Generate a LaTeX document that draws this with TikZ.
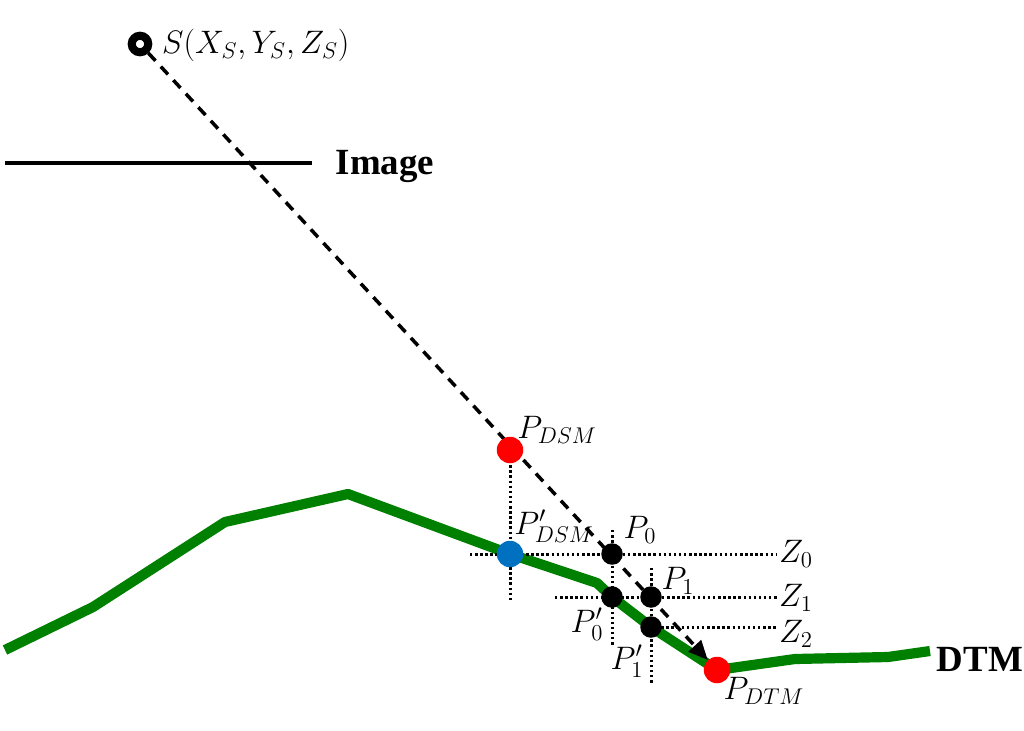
\RequirePackage{fix-cm}
\documentclass[tikz,border=0pt]{standalone}
\usepackage{fontspec}
\setmainfont{Liberation Serif}
\usepackage{xcolor}
\usetikzlibrary{arrows.meta,positioning,backgrounds}

\definecolor{dtmgreen}{RGB}{0,128,0}
\definecolor{dsmblue}{RGB}{0,112,192}

\begin{document}
\begin{tikzpicture}[x=0.02cm,y=-0.02cm,
  bigpt/.style={circle,inner sep=0pt,minimum size=0.53cm},
  smallpt/.style={circle,fill=black,inner sep=0pt,minimum size=0.43cm},
  lab/.style={font=\fontsize{18.5}{21}\selectfont,inner sep=1pt},
  tag/.style={font=\fontsize{21}{24}\selectfont\bfseries},
  terrain/.style={draw=dtmgreen,line width=5.8pt,line join=round},
  guide/.style={line width=1.7pt,dash pattern=on 1.4pt off 1.5pt},
  ray/.style={line width=2pt,dash pattern=on 6pt off 4.5pt,-{Triangle[length=11pt,width=9.5pt]}}
]
\useasboundingbox (0,0) rectangle (1024,730);

% sensor and image plane
\node[circle,draw,line width=4.6pt,fill=white,inner sep=0pt,minimum size=0.33cm] (src) at (140,44) {};
\node[lab,anchor=west] (srclab) at (160,45) {$S(X_S,Y_S,Z_S)$};
\coordinate (imgl) at (5,163);
\coordinate (imgr) at (312,163);
\node[tag] (imglab) at (385,166) {Image};

% points
\node[bigpt,fill=red] (pdsm) at (510,450) {};
\node[bigpt,fill=dsmblue] (pdsmp) at (510,554) {};
\node[smallpt] (p0) at (612,554) {};
\node[smallpt] (p0p) at (612,597) {};
\node[smallpt] (p1) at (651,597) {};
\node[smallpt] (p2) at (651,627) {};
\node[bigpt,fill=red] (pdtm) at (717,670) {};

\node[lab] (pdsmlab) at (557,430) {$P_{DSM}$};
\node[lab] (pdsmplab) at (554,526) {$P'_{DSM}$};
\node[lab] (p0lab) at (640,530) {$P_0$};
\node[lab] (p1lab) at (678,581) {$P_1$};
\node[lab] (p0plab) at (587,624) {$P'_0$};
\node[lab] (p1plab) at (627,661) {$P'_1$};
\node[lab] (pdtmlab) at (764,691) {$P_{DTM}$};
\node[lab,anchor=west] (zlab0) at (777,554) {$Z_0$};
\node[lab,anchor=west] (zlab1) at (777,598) {$Z_1$};
\node[lab,anchor=west] (zlab2) at (777,634) {$Z_2$};
\node[tag] (dtmlab) at (980,659) {DTM};

% terrain bends and guide ends
\coordinate (t1) at (5,650);
\coordinate (t2) at (93,607);
\coordinate (t3) at (225,522);
\coordinate (t4) at (348,494);
\coordinate (t5) at (597,583);
\coordinate (t6) at (795,659);
\coordinate (t7) at (888,657);
\coordinate (t8) at (930,651);
\coordinate (v1b) at (510,600);
\coordinate (v2t) at (612,530);
\coordinate (v2b) at (612,645);
\coordinate (v3t) at (651,568);
\coordinate (v3b) at (651,685);
\coordinate (z0l) at (470,554);
\coordinate (z1l) at (555,597);

\begin{scope}[on background layer]
\draw[line width=2.2pt] (imgl) -- (imgr);
\draw[terrain] (t1) -- (t2) -- (t3) -- (t4) -- (pdsmp.center) -- (t5) -- (p0p.center) -- (p2.center) -- (pdtm.center) -- (t6) -- (t7) -- (t8);
\draw[guide] (pdsm.center) -- (v1b);
\draw[guide] (v2t) -- (v2b);
\draw[guide] (v3t) -- (v3b);
\draw[guide] (z0l) -- (z0l -| zlab0.west);
\draw[guide] (z1l) -- (z1l -| zlab1.west);
\draw[guide] (p2.center) -- (p2 -| zlab2.west);
\draw[ray] (src) -- (pdtm);
\end{scope}
\end{tikzpicture}
\end{document}
